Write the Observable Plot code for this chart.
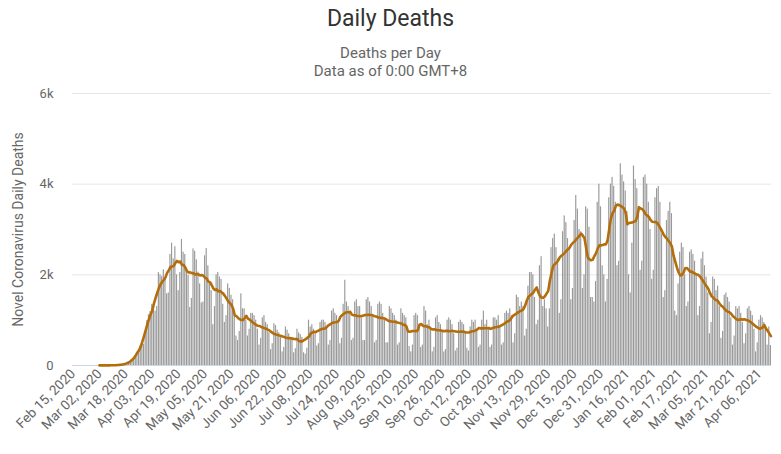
<!DOCTYPE html>
<html><head><meta charset="utf-8">
<script src="https://cdn.jsdelivr.net/npm/d3@7"></script>
<script src="https://cdn.jsdelivr.net/npm/@observablehq/plot@0.6"></script>
<style>
body{margin:0;background:#fff;font-family:Roboto,sans-serif;}
#wrap{width:781px;}
.title{font-size:23px;color:#333;text-align:center;line-height:34px;padding-top:2px;height:34px;}
.sub{font-size:15px;color:#666;text-align:center;line-height:18px;margin-top:8px;height:36px;}
#chart g[aria-label="y-axis label"] text{font-size:14px;font-weight:normal;fill:#666;}
</style></head><body>
<div id="wrap">
<div class="title">Daily Deaths</div>
<div class="sub">Deaths per Day<br>Data as of 0:00 GMT+8</div>
<div id="chart"></div>
</div>
<script>
const startDate = "2020-02-15";
const feb2020 = [0,0,0,0,0,0,0,0,0,0,0,0,0,0,1];
const mar2020 = [1,4,1,4,1,2,3,4,4,3,8,7,11,9,10,23,25,38,51,58,79,118,134,221,257,322,434,525,470,690,990];
const apr2020 = [1120,1190,1350,1330,1200,1300,2050,2000,1960,2110,1900,1580,1600,2450,2700,2350,2620,2000,1650,2050,2780,2500,2450,2100,1990,1280,1480,2570,2520,2330];
const may2020 = [2060,1800,1380,1400,2420,2580,2200,1800,1650,900,1300,2000,2050,1950,1900,1350,950,1100,1800,1700,1550,1450,1100,650,550,750,1580,1250,1250,1000,650];
const jun2020 = [800,1150,1150,1100,1000,800,450,600,1050,1100,950,900,720,350,480,920,880,780,720,650,300,400,850,780,700,620,600,280,370,800];
const jul2020 = [720,680,620,280,250,380,1000,850,900,800,750,430,480,950,1000,1000,950,850,450,550,1200,1250,1150,1100,950,480,600,1350,1880,1400,1300];
const aug2020 = [1150,550,600,1400,1450,1300,1300,1050,550,550,1450,1500,1400,1300,1100,500,550,1350,1400,1350,1150,1050,500,500,1300,1250,1150,1100,1000,450,500];
const sep2020 = [1250,1150,1100,1050,800,420,300,450,1100,1150,1100,800,400,450,1300,1200,900,1000,800,300,400,1050,1100,950,900,750,300,350,1000,1050];
const oct2020 = [1000,900,700,320,380,950,1000,950,900,700,380,320,850,1000,950,1000,780,400,450,1000,1200,900,1000,800,400,450,1050,1050,1000,1100,850];
const nov2020 = [450,500,1150,1200,1150,1250,1100,500,700,1550,1500,1300,1400,1300,650,800,1750,2050,2050,2000,1500,900,1000,2200,2400,1300,1450,1250,850,1250];
const dec2020 = [2600,2800,2900,2600,2350,1150,1450,2950,3300,3150,2800,2600,1450,1700,3200,3750,3450,3000,2950,1700,2000,3500,3450,3050,1500,1500,1400,1850,3600,4000,3500];
const jan2021 = [2200,2000,1400,1900,3700,4000,4150,3950,3600,2200,2300,4450,4200,4050,3850,3400,2000,1600,2700,4400,4100,3900,3500,2100,2300,4150,4200,4000,3600,3000,1900];
const feb2021 = [2100,3700,3900,3950,3600,2900,1500,1650,3200,3400,3600,3350,2500,1200,1100,1800,2500,2700,2600,2000,1300,1400,2500,2550,2450,2300,2000,1100];
const mar2021 = [1300,2350,2500,2200,1950,1600,700,950,1950,1900,1650,1750,1300,600,750,1550,1600,1500,1400,1050,450,650,1300,1250,1300,1150,950,480,700,1250,1300];
const apr2021 = [1200,1100,800,300,500,1000,1100,1050,950,850,450,850,440];

const tickLabels = ["2020-02-15","2020-03-02","2020-03-18","2020-04-03","2020-04-19","2020-05-05","2020-05-21","2020-06-06","2020-06-22","2020-07-08","2020-07-24","2020-08-09","2020-08-25","2020-09-10","2020-09-26","2020-10-12","2020-10-28","2020-11-13","2020-11-29","2020-12-15","2020-12-31","2021-01-16","2021-02-01","2021-02-17","2021-03-05","2021-03-21","2021-04-06"];
const yTicks = [0, 2000, 4000, 6000];
const lineStart = "2020-03-02";

const deaths = [].concat(feb2020, mar2020, apr2020, may2020, jun2020, jul2020, aug2020, sep2020, oct2020, nov2020, dec2020, jan2021, feb2021, mar2021, apr2021);
const parse = d3.utcParse("%Y-%m-%d");
const fmtKey = d3.utcFormat("%Y-%m-%d");
const start = parse(startDate);
const data = deaths.map((v, i) => ({date: fmtKey(d3.utcDay.offset(start, i)), deaths: v}));
const lineData = data.filter(d => d.date >= lineStart);
const tickFmt = d3.utcFormat("%b %d, %Y");

const plot = Plot.plot({
  width: 781, height: 374,
  marginLeft: 72, marginRight: 10, marginTop: 13, marginBottom: 89,
  style: {fontFamily: "Roboto, sans-serif", background: "#fff", color: "#666"},
  x: {type: "band", domain: data.map(d => d.date), paddingInner: 0.3, paddingOuter: 0, round: false},
  y: {domain: [0, 6000]},
  marks: [
    Plot.gridY(yTicks.slice(1), {stroke: "#e6e6e6", strokeOpacity: 1}),
    Plot.barY(data, {x: "date", y: "deaths", fill: "#999999"}),
    Plot.ruleY([0], {stroke: "#ccd6eb"}),
    Plot.lineY(lineData, Plot.windowY({k: 7, reduce: "mean"}, {x: "date", y: "deaths", stroke: "#b36d0a", strokeWidth: 2.6, strokeLinejoin: "round"})),
    Plot.axisY({ticks: yTicks, tickFormat: d => d === 0 ? "0" : (d / 1000) + "k", tickSize: 0, tickPadding: 19, fontSize: 13, color: "#666", label: "Novel Coronavirus Daily Deaths", labelAnchor: "center", labelOffset: 59, labelArrow: "none"}),
    Plot.axisX({ticks: tickLabels, tickFormat: d => tickFmt(parse(d)), tickRotate: -45, tickSize: 0, tickPadding: 6, fontSize: 13.5, color: "#666", label: null})
  ]
});
document.getElementById("chart").appendChild(plot);
</script>
</body></html>
